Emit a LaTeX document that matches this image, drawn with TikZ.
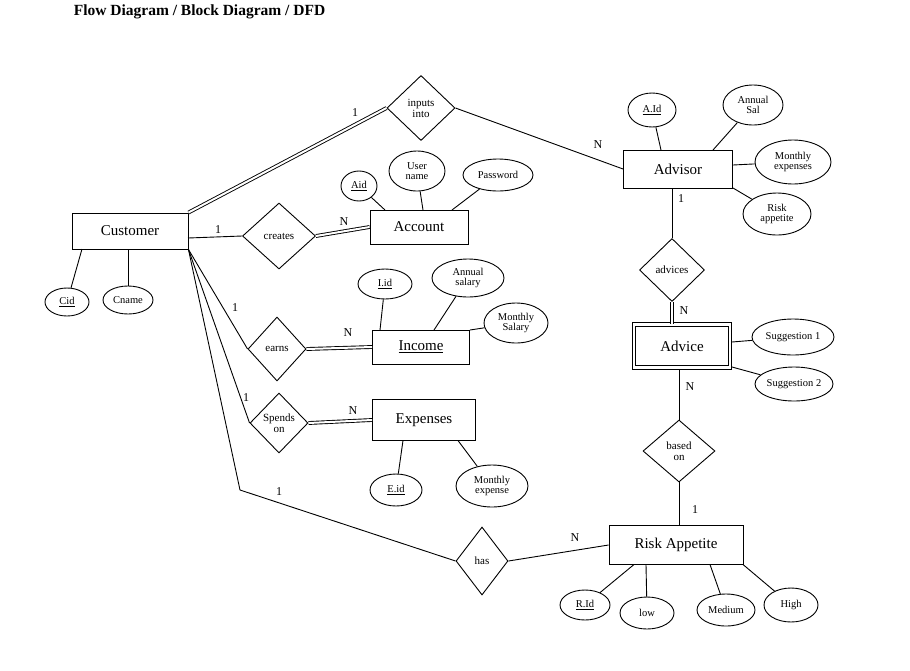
\documentclass[tikz,border=0pt]{standalone}
\usepackage{fontspec}
\setmainfont{Liberation Serif}
\usetikzlibrary{shapes.geometric}
\begin{document}
\begin{tikzpicture}[x=1pt,y=-1pt,line width=0.9pt,
  ent/.style={draw,rectangle,inner sep=0pt,font=\fontsize{15}{16}\selectfont},
  wkent/.style={draw,rectangle,double,double distance=2.5pt,inner sep=0pt,font=\fontsize{15}{16}\selectfont},
  attr/.style={draw,ellipse,inner sep=0pt,align=center,font=\fontsize{10.5}{10.5}\selectfont},
  rel/.style={draw,diamond,inner sep=0pt,align=center,font=\fontsize{11}{11}\selectfont},
  card/.style={inner sep=1pt,font=\fontsize{12}{12}\selectfont},
  dbl/.style={double,double distance=2pt}]
\useasboundingbox (0,0) rectangle (910,670);
\node[anchor=west,font=\bfseries\fontsize{15.5}{16}\selectfont] (title) at (70,12) {Flow Diagram / Block Diagram / DFD};

% Customer
\node[ent,minimum width=116,minimum height=36] (cust) at (130,231) {Customer};
\node[attr,minimum width=44,minimum height=28] (cid) at (67,302) {\underline{Cid}};
\node[attr,minimum width=50,minimum height=28] (cname) at (128,300) {Cname};
\coordinate (c1) at (82,249);
\coordinate (c2) at (128,249);
\draw (c1) -- (cid);
\draw (c2) -- (cname);

% inputs into
\node[rel,minimum width=68,minimum height=65] (inputs) at (421,108) {inputs\\into};
% Advisor
\node[ent,minimum width=109,minimum height=38] (adv) at (678,169) {Advisor};
\node[attr,minimum width=48,minimum height=34] (aid2) at (652,110) {\underline{A.Id}};
\node[attr,minimum width=60,minimum height=40] (asal) at (753,105) {Annual\\Sal};
\node[attr,minimum width=76,minimum height=44] (mexp) at (793,162) {Monthly\\expenses};
\node[attr,minimum width=68,minimum height=42] (risk) at (777,214) {Risk\\appetite};
\coordinate (a1) at (661,150);
\coordinate (a2) at (713,150);
\coordinate (a3) at (733,165);
\coordinate (a4) at (733,188);
\draw (a1) -- (aid2);
\draw (a2) -- (asal);
\draw (a3) -- (mexp);
\draw (a4) -- (risk);

\draw[dbl] (cust.north east) -- (inputs.west);
\node[card] (l1) at (355,113) {1};
\draw (inputs.east) -- (adv.west);
\node[card] (l2) at (598,145) {N};

% advices
\node[rel,minimum width=65,minimum height=63] (advices) at (672,270) {advices};
\coordinate (a5) at (672,188);
\draw (a5) -- (advices.north);
\node[card] (l3) at (681,199) {1};
\node[wkent,minimum width=96,minimum height=43] (advice) at (682,346) {Advice};
\coordinate (a6) at (672,324);
\draw[dbl] (advices.south) -- (a6);
\node[card] (l4) at (684,311) {N};
\node[attr,minimum width=82,minimum height=36] (sug1) at (793,337) {Suggestion 1};
\node[attr,minimum width=78,minimum height=34] (sug2) at (794,384) {Suggestion 2};
\coordinate (a7) at (732,342);
\coordinate (a8) at (732,367);
\draw (a7) -- (sug1);
\draw (a8) -- (sug2);

% based on
\node[rel,minimum width=72,minimum height=62] (based) at (679,451) {based\\on};
\coordinate (a9) at (679,370);
\draw (a9) -- (based.north);
\node[card] (l5) at (690,387) {N};

% Risk Appetite
\node[ent,minimum width=134,minimum height=39] (ra) at (676,545) {Risk Appetite};
\draw (based.south) -- (ra.north -| based.south);
\node[card] (l6) at (695,510) {1};
\node[attr,minimum width=50,minimum height=30] (rid) at (585,605) {\underline{R.Id}};
\node[attr,minimum width=54,minimum height=32] (low) at (647,613) {low};
\node[attr,minimum width=58,minimum height=32] (med) at (726,610) {Medium};
\node[attr,minimum width=54,minimum height=34] (high) at (791,605) {High};
\coordinate (r1) at (634,564.5);
\coordinate (r2) at (646,564.5);
\coordinate (r3) at (710,564.5);
\coordinate (r4) at (743,564.5);
\draw (r1) -- (rid);
\draw (r2) -- (low);
\draw (r3) -- (med);
\draw (r4) -- (high);

% has
\node[rel,minimum width=52,minimum height=68] (has) at (482,561) {has};
\draw (has.east) -- (ra.west);
\node[card] (l7) at (575,538) {N};
\coordinate (bend) at (240,490);
\draw (cust.south east) -- (bend) -- (has.west);
\node[card] (l8) at (279,492) {1};

% creates / Account
\node[rel,minimum width=73,minimum height=66] (creates) at (279,236) {creates};
\coordinate (c3) at (188,238);
\draw (c3) -- (creates.west);
\node[card] (l9) at (218,230) {1};
\node[ent,minimum width=98,minimum height=34] (acc) at (419,227) {Account};
\draw[dbl] (creates.east) -- (acc.west);
\node[card] (l10) at (344,222) {N};
\node[attr,minimum width=36,minimum height=30] (aid) at (359,186) {\underline{Aid}};
\node[attr,minimum width=56,minimum height=40] (uname) at (417,171) {User\\name};
\node[attr,minimum width=70,minimum height=32] (pwd) at (498,175) {Password};
\coordinate (k1) at (385,210);
\coordinate (k2) at (423,210);
\coordinate (k3) at (452,210);
\draw (k1) -- (aid);
\draw (k2) -- (uname);
\draw (k3) -- (pwd);

% earns / Income
\node[rel,minimum width=58,minimum height=64] (earns) at (277,349) {earns};
\draw (cust.south east) -- (earns.west);
\node[card] (l11) at (235,308) {1};
\node[ent,minimum width=97,minimum height=34] (inc) at (421,347) {\underline{Income}};
\draw[dbl] (earns.east) -- (inc.west);
\node[card] (l12) at (348,333) {N};
\node[attr,minimum width=54,minimum height=30] (iid) at (385,284) {\underline{I.id}};
\node[attr,minimum width=72,minimum height=38] (asal2) at (468,278) {Annual\\salary};
\node[attr,minimum width=64,minimum height=40] (msal) at (516,323) {Monthly\\Salary};
\coordinate (i1) at (380,330);
\coordinate (i2) at (434,330);
\coordinate (i3) at (470,330);
\draw (i1) -- (iid);
\draw (i2) -- (asal2);
\draw (i3) -- (msal);

% spends on / Expenses
\node[rel,minimum width=58,minimum height=60] (spends) at (279,423) {Spends\\on};
\draw (cust.south east) -- (spends.west);
\node[card] (l13) at (246,398) {1};
\node[ent,minimum width=103,minimum height=41] (exp) at (424,420) {Expenses};
\draw[dbl] (spends.east) -- (exp.west);
\node[card] (l14) at (353,411) {N};
\node[attr,minimum width=52,minimum height=32] (eid) at (396,490) {\underline{E.id}};
\node[attr,minimum width=72,minimum height=42] (mexp2) at (492,486) {Monthly\\expense};
\coordinate (e1) at (403,440.5);
\coordinate (e2) at (458,440.5);
\draw (e1) -- (eid);
\draw (e2) -- (mexp2);
\end{tikzpicture}
\end{document}
